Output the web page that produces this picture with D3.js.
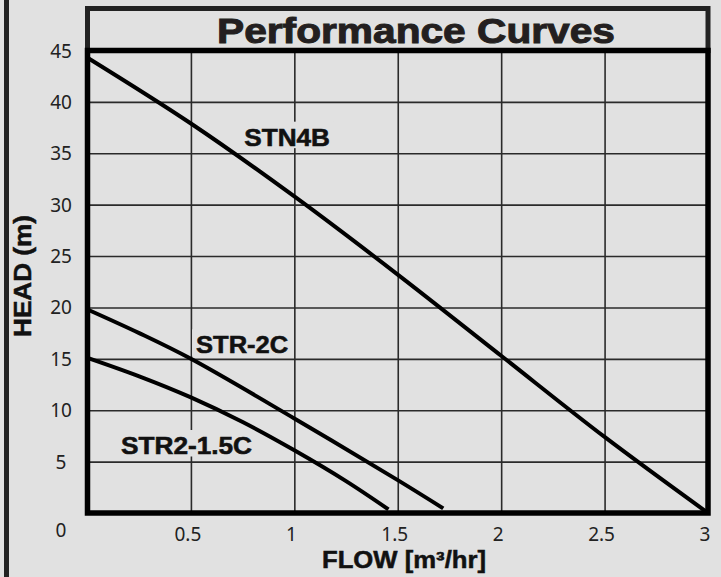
<!DOCTYPE html>
<html>
<head>
<meta charset="utf-8">
<script src="https://cdn.jsdelivr.net/npm/d3@7"></script>
<style>
  html, body { margin: 0; padding: 0; background: #e1e1e1; }
  svg { display: block; }
</style>
</head>
<body>
<svg id="chart" width="721" height="577"></svg>
<script>
// ---------- data ----------
const title = "Performance Curves";
const xAxisTitle = "FLOW [m³/hr]";
const yAxisTitle = "HEAD (m)";
const xTicks = [0.5, 1, 1.5, 2, 2.5, 3];
const yTicks = [0, 5, 10, 15, 20, 25, 30, 35, 40, 45];
const seriesNames = ["STN4B", "STR-2C", "STR2-1.5C"];
const flowSTN4B = [0, 0.5, 1, 1.5, 2, 2.5, 3];
const headSTN4B = [44.3, 37.9, 30.8, 23.2, 15.3, 7.4, 0];
const flowSTR2C = [0, 0.25, 0.5, 1, 1.5, 1.72];
const headSTR2C = [19.8, 17.5, 15.0, 9.2, 3.2, 0.45];
const flowSTR215C = [0, 0.25, 0.5, 0.75, 1, 1.25, 1.455];
const headSTR215C = [15.1, 13.3, 11.25, 8.85, 6.1, 3.1, 0.35];
// label anchors, in data units (flow, head)
const labelFlow = [0.758, 0.525, 0.162];
const labelHead = [35.74, 15.54, 5.74];

// ---------- layout ----------
const svg = d3.select("#chart");
const x = d3.scaleLinear().domain([0, 3]).range([87.5, 708]);
const y = d3.scaleLinear().domain([0, 45]).range([513, 50.5]);
const ink = "#222";

// page frame bar on left
svg.append("rect").attr("x", 4).attr("y", 0).attr("width", 5).attr("height", 577).attr("fill", ink);

// gridlines via axes
const gx = svg.append("g").attr("transform", `translate(0,${y(0)})`)
  .call(d3.axisBottom(x).tickValues(xTicks).tickSize(-(y(0) - y(45))).tickFormat(""));
const gy = svg.append("g").attr("transform", `translate(${x(0)},0)`)
  .call(d3.axisLeft(y).tickValues(yTicks).tickSize(-(x(3) - x(0))).tickFormat(""));
[gx, gy].forEach(g => {
  g.select(".domain").remove();
  g.selectAll(".tick line").attr("stroke", "#2a2a2a").attr("stroke-width", 1.6);
});

// tick labels
svg.append("g").selectAll("text").data(xTicks).join("text")
  .attr("x", d => x(d) - 3).attr("y", 540.5)
  .attr("text-anchor", "middle")
  .attr("font-family", "'Noto Sans', 'Open Sans', sans-serif")
  .attr("font-size", 19).attr("fill", ink)
  .text(d => d);
svg.append("g").selectAll("text").data(yTicks).join("text")
  .attr("x", 61).attr("y", d => d === 0 ? 537 : y(d) + 7)
  .attr("text-anchor", "middle")
  .attr("font-family", "'Noto Sans', 'Open Sans', sans-serif")
  .attr("font-size", 19).attr("fill", ink)
  .text(d => d);

// series
const series = [
  { name: seriesNames[0], flow: flowSTN4B, head: headSTN4B },
  { name: seriesNames[1], flow: flowSTR2C, head: headSTR2C },
  { name: seriesNames[2], flow: flowSTR215C, head: headSTR215C }
];
const labelWidths = [85.7, 92, 131];

// label masks + labels
series.forEach((s, i) => {
  const lx = x(labelFlow[i]), ly = y(labelHead[i]);
  svg.append("rect").attr("x", lx - 4).attr("y", ly - 24)
    .attr("width", labelWidths[i] + 8).attr("height", 26.5).attr("fill", "#e1e1e1");
  svg.append("text").attr("x", lx).attr("y", ly)
    .attr("font-family", "'Liberation Sans', Arial, sans-serif")
    .attr("font-weight", "bold").attr("font-size", 24.5)
    .attr("fill", "#111").attr("stroke", "#111").attr("stroke-width", 0.6)
    .attr("textLength", labelWidths[i]).attr("lengthAdjust", "spacingAndGlyphs")
    .text(s.name);
});

const line = d3.line().x(d => x(d[0])).y(d => y(d[1])).curve(d3.curveCatmullRom.alpha(0.5));
series.forEach(s => {
  svg.append("path")
    .datum(s.flow.map((f, i) => [f, s.head[i]]))
    .attr("d", line).attr("fill", "none")
    .attr("stroke", "#000").attr("stroke-width", 4).attr("stroke-linecap", "butt");
});

// title box
svg.append("rect").attr("x", x(0)).attr("y", 8.5).attr("width", x(3) - x(0)).attr("height", y(45) - 8.5)
  .attr("fill", "none").attr("stroke", ink).attr("stroke-width", 5);
svg.append("text").attr("x", 217).attr("y", 43.3)
  .attr("font-family", "'Liberation Sans', Arial, sans-serif")
  .attr("font-weight", "bold").attr("font-size", 35)
  .attr("fill", "#231f20").attr("stroke", "#231f20").attr("stroke-width", 1)
  .attr("textLength", 398).attr("lengthAdjust", "spacingAndGlyphs")
  .text(title);

// plot border
svg.append("rect").attr("x", x(0)).attr("y", y(45)).attr("width", x(3) - x(0)).attr("height", y(0) - y(45))
  .attr("fill", "none").attr("stroke", "#000").attr("stroke-width", 5.5);

// axis titles
svg.append("text").attr("x", 404).attr("y", 568.3).attr("text-anchor", "middle")
  .attr("font-family", "'Liberation Sans', Arial, sans-serif")
  .attr("font-weight", "bold").attr("font-size", 23)
  .attr("fill", "#111").attr("stroke", "#111").attr("stroke-width", 0.5)
  .attr("textLength", 164).attr("lengthAdjust", "spacingAndGlyphs")
  .text(xAxisTitle);
svg.append("text").attr("transform", "translate(31,276) rotate(-90)").attr("text-anchor", "middle")
  .attr("font-family", "'Liberation Sans', Arial, sans-serif")
  .attr("font-weight", "bold").attr("font-size", 24)
  .attr("fill", "#111").attr("stroke", "#111").attr("stroke-width", 0.5)
  .attr("textLength", 122).attr("lengthAdjust", "spacingAndGlyphs")
  .text(yAxisTitle);
</script>
</body>
</html>
